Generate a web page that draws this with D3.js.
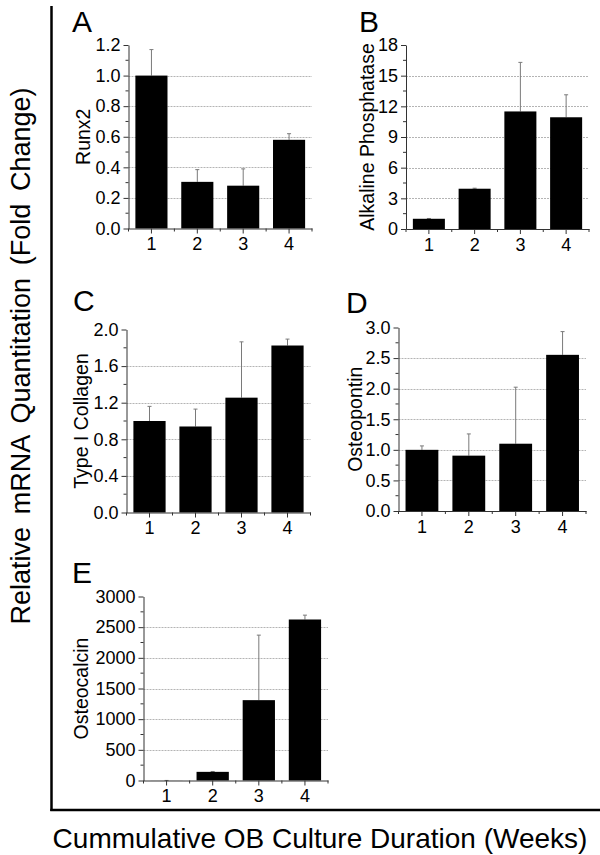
<!DOCTYPE html>
<html>
<head>
<meta charset="utf-8">
<script src="https://cdn.jsdelivr.net/npm/d3@7"></script>
<style>
  html, body { margin: 0; padding: 0; background: #fff; }
  svg { display: block; }
  text { font-family: "Liberation Sans", Arial, sans-serif; fill: #000; }
</style>
</head>
<body>
<svg id="chart" width="600" height="855"></svg>
<script>
// ---------- data ----------
const weeks = ["1", "2", "3", "4"];

const runx2Mean = [1.0, 0.305, 0.28, 0.58];
const runx2Sd   = [0.17, 0.08, 0.11, 0.04];
const runx2Ticks = [0, 0.2, 0.4, 0.6, 0.8, 1.0, 1.2];

const alpMean = [1.0, 3.94, 11.5, 10.93];
const alpSd   = [0.03, 0.05, 4.8, 2.2];
const alpTicks = [0, 3, 6, 9, 12, 15, 18];

const col1Mean = [1.0, 0.94, 1.255, 1.825];
const col1Sd   = [0.16, 0.19, 0.61, 0.07];
const col1Ticks = [0, 0.4, 0.8, 1.2, 1.6, 2.0];

const opnMean = [1.0, 0.905, 1.10, 2.553];
const opnSd   = [0.064, 0.355, 0.924, 0.38];
const opnTicks = [0, 0.5, 1.0, 1.5, 2.0, 2.5, 3.0];

const ocnMean = [1, 141, 1310, 2625];
const ocnSd   = [0, 6, 1060, 71];
const ocnTicks = [0, 500, 1000, 1500, 2000, 2500, 3000];

const panelLetters = ["A", "B", "C", "D", "E"];
const geneNames = ["Runx2", "Alkaline Phosphatase", "Type I Collagen", "Osteopontin", "Osteocalcin"];
const yTitle = "Relative mRNA Quantitation (Fold Change)";
const xTitle = "Cummulative OB Culture Duration (Weeks)";

// ---------- layout ----------
const svg = d3.select("#chart");

const panels = [
  { letter: panelLetters[0], name: geneNames[0], mean: runx2Mean, sd: runx2Sd, ticks: runx2Ticks, fmt: d3.format(".1f"),
    x0: 128.5, x1: 312, yTop: 45, yBot: 228.5, lx: 72, ly: 32, labX: 90 },
  { letter: panelLetters[1], name: geneNames[1], mean: alpMean, sd: alpSd, ticks: alpTicks, fmt: d3.format("d"),
    x0: 406, x1: 589, yTop: 45, yBot: 229, lx: 359, ly: 32, labX: 374 },
  { letter: panelLetters[2], name: geneNames[2], mean: col1Mean, sd: col1Sd, ticks: col1Ticks, fmt: d3.format(".1f"),
    x0: 126.5, x1: 310.5, yTop: 329.5, yBot: 512.5, lx: 73, ly: 311, labX: 88 },
  { letter: panelLetters[3], name: geneNames[3], mean: opnMean, sd: opnSd, ticks: opnTicks, fmt: d3.format(".1f"),
    x0: 398.5, x1: 586, yTop: 327.5, yBot: 511, lx: 346, ly: 313, labX: 362 },
  { letter: panelLetters[4], name: geneNames[4], mean: ocnMean, sd: ocnSd, ticks: ocnTicks, fmt: d3.format("d"),
    x0: 143.5, x1: 328, yTop: 596.5, yBot: 780.5, lx: 72, ly: 583, labX: 88 }
];

panels.forEach(p => {
  const g = svg.append("g");
  const x = d3.scaleBand().domain(weeks).range([p.x0, p.x1]).paddingInner(0.3).paddingOuter(0.15);
  const y = d3.scaleLinear().domain([p.ticks[0], p.ticks[p.ticks.length - 1]]).range([p.yBot, p.yTop]);
  const step = x.step();

  // gridlines
  g.append("g").selectAll("line")
    .data(p.ticks.slice(1, -1))
    .join("line")
    .attr("x1", p.x0).attr("x2", p.x1)
    .attr("y1", d => Math.round(y(d)) + 0.5).attr("y2", d => Math.round(y(d)) + 0.5)
    .attr("stroke", "#b4b4b4").attr("stroke-width", 1).attr("stroke-dasharray", "2,1");

  // error bars
  const eb = g.append("g").attr("stroke", "#7a7a7a").attr("stroke-width", 1);
  weeks.forEach((w, i) => {
    const cx = x(w) + x.bandwidth() / 2;
    const top = y(p.mean[i] + p.sd[i]);
    eb.append("line").attr("x1", cx).attr("x2", cx).attr("y1", y(p.mean[i])).attr("y2", top);
    eb.append("line").attr("x1", cx - 2).attr("x2", cx + 2).attr("y1", top).attr("y2", top);
  });

  // bars
  g.append("g").selectAll("rect")
    .data(weeks)
    .join("rect")
    .attr("x", d => x(d))
    .attr("width", x.bandwidth())
    .attr("y", (d, i) => y(p.mean[i]))
    .attr("height", (d, i) => y(p.ticks[0]) - y(p.mean[i]))
    .attr("fill", "#000");

  // y axis
  const ya = g.append("g").attr("transform", `translate(${p.x0},0)`)
    .call(d3.axisLeft(y).tickValues(p.ticks).tickFormat(p.fmt).tickSize(5).tickSizeOuter(0).tickPadding(3));
  ya.select(".domain").attr("stroke", "#333");
  ya.selectAll(".tick line").attr("stroke", "#333");
  ya.selectAll("text").attr("font-size", 18).attr("fill", "#000");
  // minor y ticks
  const minor = d3.pairs(p.ticks).map(([a, b]) => (a + b) / 2);
  ya.append("g").selectAll("line").data(minor).join("line")
    .attr("x1", 0).attr("x2", -3)
    .attr("y1", d => y(d)).attr("y2", d => y(d))
    .attr("stroke", "#333");

  // x axis
  const xa = g.append("g").attr("transform", `translate(0,${p.yBot})`)
    .call(d3.axisBottom(x).tickSize(5).tickSizeOuter(0).tickPadding(4));
  xa.select(".domain").attr("stroke", "#333");
  xa.selectAll(".tick line").attr("stroke", "#333");
  xa.selectAll("text").attr("font-size", 18).attr("fill", "#000");
  // minor x ticks at band boundaries
  xa.append("g").selectAll("line").data(d3.range(weeks.length + 1)).join("line")
    .attr("x1", d => p.x0 + d * step).attr("x2", d => p.x0 + d * step)
    .attr("y1", 0).attr("y2", 3)
    .attr("stroke", "#333");

  // y axis label
  g.append("text")
    .attr("transform", `translate(${p.labX},${(p.yTop + p.yBot) / 2}) rotate(-90)`)
    .attr("text-anchor", "middle")
    .attr("font-size", 19.5)
    .text(p.name);

  // panel letter
  g.append("text")
    .attr("x", p.lx).attr("y", p.ly)
    .attr("font-size", 30)
    .text(p.letter);
});

// ---------- frame ----------
svg.append("line").attr("x1", 51.5).attr("x2", 51.5).attr("y1", 6).attr("y2", 811)
  .attr("stroke", "#000").attr("stroke-width", 2.5);
svg.append("line").attr("x1", 50.25).attr("x2", 600).attr("y1", 810).attr("y2", 810)
  .attr("stroke", "#000").attr("stroke-width", 2.5);

// ---------- outer titles ----------
const yt = svg.append("text")
  .attr("transform", `translate(30,356) rotate(-90)`)
  .attr("text-anchor", "middle")
  .attr("font-size", 27)
  .text(yTitle);
{
  const len = yt.node().getComputedTextLength();
  const target = 537;
  const nSpaces = yTitle.split(" ").length - 1;
  yt.attr("word-spacing", Math.max(0, (target - len) / nSpaces));
}

const xt = svg.append("text")
  .attr("x", 320).attr("y", 848)
  .attr("text-anchor", "middle")
  .attr("font-size", 28)
  .text(xTitle);
</script>
</body>
</html>
